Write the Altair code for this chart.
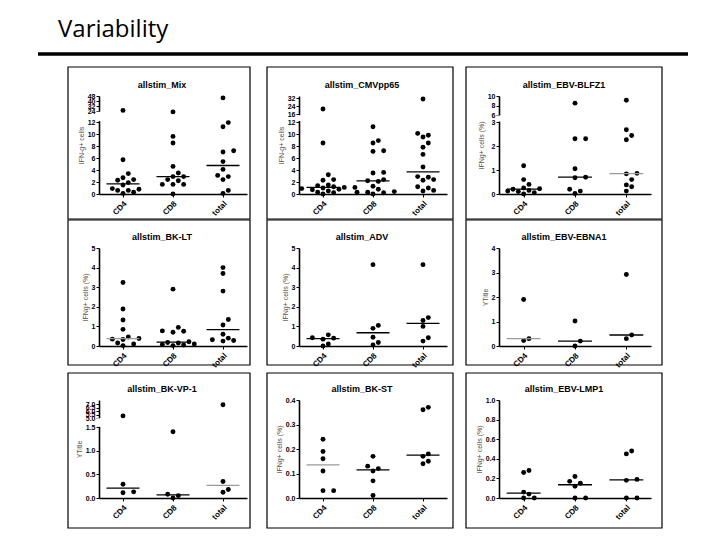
import altair as alt
import pandas as pd
import numpy as np

CATS = ["CD4", "CD8", "total"]

# allstim_Mix
mix_cd4 = [25, 5.7, 3.4, 2.7, 2.4, 2.3, 1.9, 1.5, 0.9, 0.8, 0.6, 0.6, 0.3, 0.1]
mix_cd8 = [23, 9.6, 8.5, 4.6, 3.5, 2.9, 2.9, 2.4, 2.2, 1.6, 1.6, 1.6, 0.0]
mix_total = [45, 11.9, 11.2, 7.2, 7.0, 5.4, 4.1, 3.1, 2.9, 2.4, 0.6, 0.1]
# allstim_CMVpp65
cmv_cd4 = [21, 8.5, 3.2, 2.4, 2.3, 1.5, 1.4, 1.2, 1.1, 1.1, 1.0, 0.9, 0.8, 0.7, 0.5, 0.3, 0.2, 0.0]
cmv_cd8 = [11.2, 8.9, 8.5, 7.2, 7.1, 3.6, 3.5, 2.4, 2.2, 2.1, 1.3, 0.8, 0.4, 0.3, 0.3, 0.2, 0.0]
cmv_total = [31, 10.1, 9.8, 9.5, 8.5, 7.8, 6.6, 4.5, 2.9, 2.8, 2.4, 2.3, 1.2, 1.0, 0.6, 0.5]
# allstim_EBV-BLFZ1
blfz_cd4 = [1.18, 0.6, 0.4, 0.25, 0.22, 0.2, 0.15, 0.12, 0.1, 0.05, 0.0]
blfz_cd8 = [8.5, 2.3, 2.3, 1.05, 0.7, 0.68, 0.2, 0.12, 0.02]
blfz_total = [9.1, 2.68, 2.44, 2.26, 0.86, 0.84, 0.6, 0.38, 0.3, 0.12]
# allstim_BK-LT
bklt_cd4 = [3.24, 1.89, 1.33, 0.85, 0.46, 0.38, 0.35, 0.33, 0.15, 0.1, 0.02]
bklt_cd8 = [2.9, 0.95, 0.77, 0.75, 0.7, 0.22, 0.18, 0.15, 0.1, 0.08, 0.05, 0.02]
bklt_total = [4.0, 3.7, 2.8, 1.35, 1.07, 0.6, 0.4, 0.32, 0.28, 0.25]
# allstim_ADV
adv_cd4 = [0.57, 0.42, 0.4, 0.35, 0.1, 0.0]
adv_cd8 = [4.15, 1.05, 0.9, 0.45, 0.18, 0.05]
adv_total = [4.15, 1.45, 1.3, 1.0, 0.42, 0.25]
# allstim_EBV-EBNA1
ebna_cd4 = [1.9, 0.3, 0.22]
ebna_cd8 = [1.02, 0.2, 0.0]
ebna_total = [2.92, 0.45, 0.3]
# allstim_BK-VP-1
vp1_cd4 = [5.3, 0.29, 0.13, 0.11]
vp1_cd8 = [1.4, 0.08, 0.05, 0.0]
vp1_total = [6.9, 0.35, 0.18, 0.12]
# allstim_BK-ST
bkst_cd4 = [0.24, 0.19, 0.16, 0.11, 0.03, 0.03]
bkst_cd8 = [0.17, 0.13, 0.12, 0.11, 0.07, 0.01]
bkst_total = [0.37, 0.36, 0.18, 0.17, 0.15, 0.14]
# allstim_EBV-LMP1
lmp_cd4 = [0.28, 0.26, 0.06, 0.04, 0.0, 0.0]
lmp_cd8 = [0.22, 0.17, 0.15, 0.12, 0.0, 0.0]
lmp_total = [0.48, 0.45, 0.19, 0.18, 0.0, 0.0]

PAGE_TITLE = "Variability"

H = 98
WIDTHS = [148, 148, 152]
FRAME_X = [(-31, 3), (-32, 6), (-33, 11)]
FRAME_Y = [(-29, 25), (-28, 19), (-27, 30)]

# "seg": height (from the bottom of the plot) of each break-point value
PANELS = [
    dict(name="allstim_Mix", yt="IFN-g+ cells", vals=[mix_cd4, mix_cd8, mix_total],
         dom=[0, 12, 24, 48], seg=[0, 72, 83, 98], ticks=[0, 2, 4, 6, 8, 10, 12, 24, 32, 40, 48],
         fmt="d", brk=[12.9, 23.2], gray=[]),
    dict(name="allstim_CMVpp65", yt="IFN-g+ cells", vals=[cmv_cd4, cmv_cd8, cmv_total],
         dom=[0, 12, 16, 32], seg=[0, 72, 80, 96], ticks=[0, 2, 4, 6, 8, 10, 12, 16, 24, 32],
         fmt="d", brk=[12.5, 15.4], gray=[]),
    dict(name="allstim_EBV-BLFZ1", yt="IFNg+ cells (%)", vals=[blfz_cd4, blfz_cd8, blfz_total],
         dom=[0, 3, 6, 10], seg=[0, 72, 79, 98], ticks=[0, 1, 2, 3, 6, 8, 10],
         fmt="d", brk=[3.2, 5.8], gray=[2]),
    dict(name="allstim_BK-LT", yt="IFNg+ cells (%)", vals=[bklt_cd4, bklt_cd8, bklt_total],
         dom=[0, 5], seg=[0, 98], ticks=[0, 1, 2, 3, 4, 5], fmt="d", brk=None, gray=[0]),
    dict(name="allstim_ADV", yt="IFNg+ cells (%)", vals=[adv_cd4, adv_cd8, adv_total],
         dom=[0, 5], seg=[0, 98], ticks=[0, 1, 2, 3, 4, 5], fmt="d", brk=None, gray=[]),
    dict(name="allstim_EBV-EBNA1", yt="YTitle", vals=[ebna_cd4, ebna_cd8, ebna_total],
         dom=[0, 4], seg=[0, 98], ticks=[0, 1, 2, 3, 4], fmt="d", brk=None, gray=[0]),
    dict(name="allstim_BK-VP-1", yt="YTitle", vals=[vp1_cd4, vp1_cd8, vp1_total],
         dom=[0, 1.5, 5, 7], seg=[0, 71, 80, 94], ticks=[0, 0.5, 1.0, 1.5, 5.0, 5.5, 6.0, 6.5, 7.0],
         fmt=".1f", brk=[1.56, 4.9], gray=[2]),
    dict(name="allstim_BK-ST", yt="IFNg+ cells (%)", vals=[bkst_cd4, bkst_cd8, bkst_total],
         dom=[0, 0.4], seg=[0, 98], ticks=[0, 0.1, 0.2, 0.3, 0.4], fmt=".1f", brk=None, gray=[0]),
    dict(name="allstim_EBV-LMP1", yt="IFNg+ cells (%)", vals=[lmp_cd4, lmp_cd8, lmp_total],
         dom=[0, 1.0], seg=[0, 98], ticks=[0, 0.2, 0.4, 0.6, 0.8, 1.0], fmt=".1f", brk=None, gray=[]),
]

PAD = 0.48
FONT = "Liberation Sans"
DOT = 5.6  # px spacing used by the beeswarm layout


def piece_expr(src, xs, ys):
    """Vega expression for a piecewise-linear map xs -> ys of `src`."""
    parts = []
    n = len(xs)
    for i in range(n - 1):
        x0, x1, y0, y1 = xs[i], xs[i + 1], ys[i], ys[i + 1]
        seg = f"({y0} + ({src} - {x0}) * {(y1 - y0) / (x1 - x0)})"
        if i < n - 2:
            parts.append(f"{src} <= {x1} ? {seg} : ")
        else:
            parts.append(seg)
    return "".join(parts)


def swarm(vals, dom, seg, step):
    """Beeswarm: horizontal offsets so that the dots do not overlap."""
    vs = sorted(vals)
    py = np.interp(vs, dom, seg)
    placed = []
    out = []
    cands = [0.0]
    for k in range(1, 12):
        cands += [k * DOT * 0.95, -k * DOT * 0.95]
    for v, y in zip(vs, py):
        for c in cands:
            if all((c - px) ** 2 + (y - pyy) ** 2 >= DOT ** 2 for px, pyy in placed):
                break
        placed.append((c, y))
        out.append((v, c / step))
    return out


def panel(p, col, row):
    w = WIDTHS[col]
    step = w / (2 + 2 * PAD)
    recs = []
    for ci, vals in enumerate(p["vals"]):
        for v, o in swarm(vals, p["dom"], p["seg"], step):
            recs.append({"xc": ci, "xi": ci + o, "v": v})
    df = pd.DataFrame(recs)
    fwd = piece_expr("datum.v", p["dom"], p["seg"])
    inv = piece_expr("datum.value", p["seg"], p["dom"])
    tick_pos = [float(t) for t in np.interp(p["ticks"], p["dom"], p["seg"])]

    xs = alt.Scale(domain=[-PAD, 2 + PAD], nice=False, zero=False)
    ys = alt.Scale(domain=[0, H], nice=False, zero=False)
    xaxis = alt.Axis(values=[0, 1, 2], labels=False,
                     tickSize=3, tickColor="black", domainColor="black", domainWidth=1.6,
                     grid=False, title=None)
    yaxis = alt.Axis(values=tick_pos, labelExpr=f"format({inv}, '{p['fmt']}')",
                     title=p["yt"], titleFont=FONT,
                     titleFontSize=7, titleFontWeight="normal", titleColor="#5a5048",
                     titlePadding=3, labelFont=FONT, labelFontSize=7, labelFontWeight="bold",
                     labelColor="black", labelOverlap=False, labelFlush=False, labelPadding=1,
                     tickSize=3, tickColor="black", domainColor="black", domainWidth=1.6,
                     grid=False)
    pts = alt.Chart(df).transform_calculate(pos=fwd).mark_circle(
        size=24, color="black", opacity=1).encode(
        x=alt.X("xi:Q", scale=xs, axis=xaxis),
        y=alt.Y("pos:Q", scale=ys, axis=yaxis),
    )
    gray = "[" + ",".join(str(g) for g in p["gray"]) + "]"
    med = alt.Chart(df).transform_aggregate(
        v="median(v)", groupby=["xc"]
    ).transform_calculate(
        pos=fwd, x1="datum.xc - 0.33", x2="datum.xc + 0.33",
        col=f"indexof({gray}, datum.xc) >= 0 ? '#9a9a9a' : '#000000'",
    ).mark_rule(strokeWidth=1.3).encode(
        x=alt.X("x1:Q", scale=xs, axis=xaxis), x2="x2:Q",
        y=alt.Y("pos:Q", scale=ys, axis=yaxis),
        color=alt.Color("col:N", scale=None),
    )
    cat_df = pd.DataFrame({"xc": [0, 1, 2], "lab": CATS})
    cats = alt.Chart(cat_df).mark_text(
        angle=315, align="right", baseline="top", font=FONT, fontSize=8,
        fontWeight="bold", color="black", dy=0,
    ).encode(
        x=alt.X("xc:Q", scale=xs, axis=xaxis), y=alt.value(H + 6), text="lab:N"
    )
    one = pd.DataFrame({"a": [0]})
    fx, fy = FRAME_X[col], FRAME_Y[row]
    frame = alt.Chart(one).mark_rect(fillOpacity=0, stroke="black", strokeWidth=1.2).encode(
        x=alt.value(fx[0]), x2=alt.value(w + fx[1]), y=alt.value(fy[0]), y2=alt.value(H + fy[1])
    )
    title = alt.Chart(one).mark_text(text=p["name"], font=FONT, fontSize=9, fontWeight="bold",
                                     align="center", baseline="alphabetic", color="black").encode(
        x=alt.value(w / 2 - 11), y=alt.value(-8)
    )
    layers = [frame, pts, med, cats]
    if p["brk"]:
        bdf = pd.DataFrame({"v": [p["brk"][0]], "w": [p["brk"][1]]})
        brk = alt.Chart(bdf).transform_calculate(
            pos=fwd, pos2=piece_expr("datum.w", p["dom"], p["seg"])
        ).mark_rule(color="white", strokeWidth=5).encode(
            x=alt.value(0), y=alt.Y("pos:Q", scale=ys, axis=yaxis), y2="pos2:Q"
        )
        layers.append(brk)
    layers.append(title)
    if row == 0 and col == 0:
        # slide heading and its underline, placed relative to the first panel
        hdf = pd.DataFrame({"t": [PAGE_TITLE]})
        head_text = alt.Chart(hdf).mark_text(font="Open Sans", fontSize=24, align="left",
                                             baseline="alphabetic", color="black").encode(
            x=alt.value(56 - 97), y=alt.value(36 - 95), text="t:N"
        )
        head_rule = alt.Chart(hdf).mark_rule(color="black", strokeWidth=3.5).encode(
            x=alt.value(36 - 97), x2=alt.value(686 - 97), y=alt.value(53 - 95)
        )
        layers += [head_text, head_rule]
    return alt.layer(*layers).properties(width=w, height=H)


charts = [panel(PANELS[r * 3 + c], c, r) for r in range(3) for c in range(3)]

chart = alt.concat(*charts, columns=3, spacing={"row": 54, "column": 52}, bounds="flush").properties(
    padding={"left": 28, "top": 10, "right": 5, "bottom": 5}
).configure_view(stroke=None)

chart.save("out.html", embed_options={"renderer": "svg", "actions": False})
